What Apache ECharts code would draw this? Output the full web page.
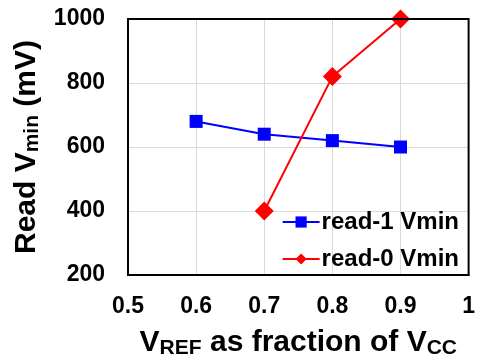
<!DOCTYPE html>
<html>
<head>
<meta charset="utf-8">
<script src="https://cdn.jsdelivr.net/npm/echarts@6/dist/echarts.min.js"></script>
<style>
  html, body { margin: 0; padding: 0; background: #fff; }
  #chart { width: 478px; height: 364px; }
</style>
</head>
<body>
<div id="chart"></div>
<script>
// data
const vrefFraction = [0.6, 0.7, 0.8, 0.9];
const read1Vmin = [680, 640, 620, 600];
const read0Vmin = [null, 400, 820, 1000];
const seriesNames = ['read-1 Vmin', 'read-0 Vmin'];

const font = '"Liberation Sans", Arial, sans-serif';

const chart = echarts.init(document.getElementById('chart'));

const pairs = (ys) => vrefFraction.map((x, i) => [x, ys[i]]).filter(p => p[1] != null);

const subStyle = { fontSize: 21, fontWeight: 'bold', fontFamily: font, color: '#000', padding: [12, 0, 0, 0] };
const titleStyle = {
    fontSize: 30, fontWeight: 'bold', fontFamily: font, color: '#000',
    rich: { sub: subStyle }
};
const tickStyle = { fontSize: 23, fontWeight: 'bold', fontFamily: font, color: '#000' };

chart.setOption({
    animation: false,
    backgroundColor: '#fff',
    grid: { left: 128, right: 6, top: 19, bottom: 89 },
    legend: {
        orient: 'vertical',
        right: 14,
        top: 205,
        itemWidth: 37,
        itemHeight: 14,
        itemGap: 13,
        textStyle: { fontSize: 24, fontWeight: 'bold', fontFamily: font, color: '#000', padding: [0, 0, 0, -3] },
        data: seriesNames
    },
    xAxis: {
        type: 'value',
        min: 0.5, max: 1, interval: 0.1,
        name: 'V{sub|REF} as fraction of V{sub|CC}',
        nameLocation: 'middle',
        nameGap: 51,
        nameTextStyle: titleStyle,
        axisLine: { show: true, lineStyle: { color: '#000', width: 2 } },
        axisTick: { show: false },
        axisLabel: Object.assign({}, tickStyle, {
            margin: 20,
            formatter: v => (v === 1 ? '1' : v.toFixed(1))
        }),
        splitLine: { show: true, lineStyle: { color: '#d9d9d9', width: 1 } }
    },
    yAxis: {
        type: 'value',
        min: 200, max: 1000, interval: 200,
        name: 'Read V{sub|min} (mV)',
        nameLocation: 'middle',
        nameRotate: 90,
        nameGap: 85,
        nameTextStyle: titleStyle,
        axisLine: { show: true, lineStyle: { color: '#000', width: 2 } },
        axisTick: { show: false },
        axisLabel: Object.assign({}, tickStyle, { margin: 23, formatter: v => String(v) }),
        splitLine: { show: true, lineStyle: { color: '#d9d9d9', width: 1 } }
    },
    series: [
        {
            name: seriesNames[0],
            type: 'line',
            data: pairs(read1Vmin),
            symbol: 'rect',
            symbolSize: 13,
            color: '#0000ff',
            lineStyle: { width: 2 },
            z: 3
        },
        {
            name: seriesNames[1],
            type: 'line',
            data: pairs(read0Vmin),
            symbol: 'diamond',
            symbolSize: 19,
            color: '#ff0000',
            lineStyle: { width: 2 },
            z: 4
        }
    ]
});

// draw the outer box from the grid rect
const rect = chart.getModel().getComponent('grid').coordinateSystem.getRect();
chart.setOption({
    graphic: [{
        type: 'rect',
        shape: { x: rect.x, y: rect.y, width: rect.width, height: rect.height },
        style: { fill: null, stroke: '#000', lineWidth: 2 },
        z: 10,
        silent: true
    }]
});
</script>
</body>
</html>
